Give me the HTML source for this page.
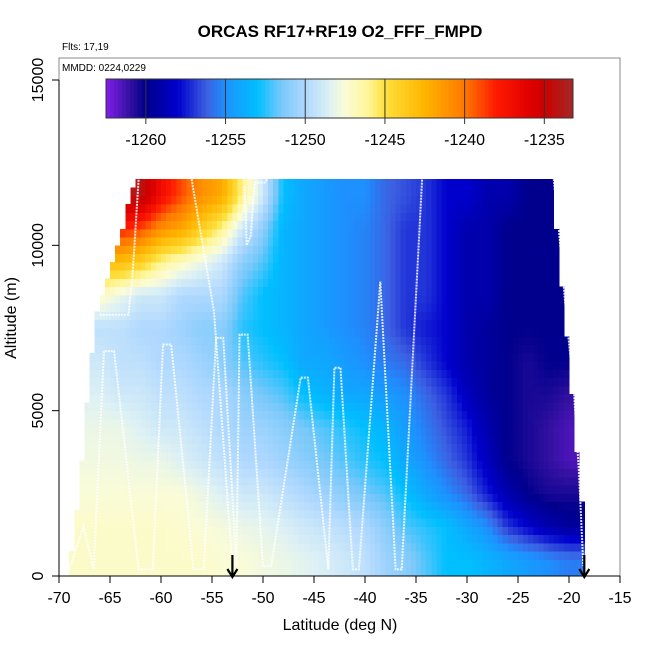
<!DOCTYPE html>
<html><head><meta charset="utf-8">
<style>
html,body{margin:0;padding:0;background:#fff;}
svg{display:block;font-family:"Liberation Sans",Arial,sans-serif;}
</style></head>
<body>
<svg id="chart" width="650" height="650" viewBox="0 0 650 650" xmlns="http://www.w3.org/2000/svg">
  <text x="340" y="37" text-anchor="middle" font-size="17" font-weight="bold">ORCAS RF17+RF19 O2_FFF_FMPD</text>
  <text x="62" y="50" font-size="10">Flts: 17,19</text>
  <rect x="59" y="58" width="561" height="518" fill="none" stroke="#888" stroke-width="1"/>
  <text x="62" y="71" font-size="10">MMDD: 0224,0229</text>
  <g id="heat" shape-rendering="crispEdges"></g>
  <g id="tracks"></g>
  <g id="cbar"></g>
  <g id="axes"></g>
  <text x="340" y="630" text-anchor="middle" font-size="16">Latitude (deg N)</text>
  <text transform="translate(16,318) rotate(-90)" text-anchor="middle" font-size="16">Altitude (m)</text>
</svg>
<script>
// ---- data ----
const latCenters = [-68,-66,-64,-62,-60,-58,-56,-54,-52,-50,-48,-46,-44,-42,-40,-38,-36,-34,-32,-30,-28,-26,-24,-22,-20];
const altCenters = [11500,10500,9500,8500,7500,6500,5500,4500,3500,2500,1500,500];
const N = null;
const row11500 = [N,N,N,-1234,-1237,-1239,-1241,-1242,-1246,-1249,-1253,-1254,-1254.5,-1255,-1255,-1256,-1256.5,-1257,-1258,-1258,-1259,-1259,-1260,-1260,N];
const row10500 = [N,N,-1238,-1239,-1241,-1242,-1244,-1246,-1249,-1251,-1253.5,-1254,-1254.5,-1255,-1255.3,-1256,-1257,-1257,-1258,-1259,-1259,-1260,-1260,-1260,N];
const row9500  = [N,N,-1243,-1244,-1246,-1247,-1248,-1249,-1251,-1252,-1253.5,-1254,-1254.5,-1255,-1255.3,-1256,-1257,-1257,-1258,-1259,-1259,-1260,-1260,-1260,N];
const row8500  = [N,-1247,-1248,-1249,-1249,-1250,-1250,-1250,-1252,-1253,-1253.5,-1254,-1254.5,-1255,-1255.3,-1256,-1257,-1257,-1258,-1259,-1259,-1260,-1260,-1260,N];
const row7500  = [N,-1249.5,-1249.5,-1250,-1250,-1250.5,-1251,-1251,-1252.5,-1253,-1253.5,-1254,-1254.5,-1255,-1255.3,-1256,-1257,-1257.5,-1258,-1259,-1259.5,-1260,-1260,-1260,N];
const row6500  = [-1249,-1249,-1249.5,-1249.5,-1250,-1250,-1250.5,-1251,-1252,-1252.5,-1253,-1254,-1254,-1254.5,-1255,-1255.5,-1256,-1257,-1258,-1259,-1259.5,-1260,-1260.5,-1260,-1260];
const row5500  = [-1248.5,-1248.5,-1249,-1249,-1249.5,-1249.5,-1250,-1250,-1251,-1251.5,-1252,-1253,-1253.5,-1254,-1254,-1254.5,-1255,-1256,-1257,-1258.5,-1259.5,-1260,-1260.5,-1260.5,-1261];
const row4500  = [-1248,-1248,-1248,-1248.5,-1249,-1249,-1249.5,-1250,-1250.5,-1250.5,-1251,-1251.5,-1252,-1252.5,-1253,-1253.5,-1254.5,-1255.5,-1256.5,-1257.5,-1259,-1260,-1260.5,-1261,-1261.5];
const row3500  = [-1247.8,-1247.8,-1247.8,-1248,-1248,-1248.5,-1249,-1249.5,-1250,-1250,-1250.5,-1251,-1251.5,-1252,-1252.5,-1253,-1254,-1255,-1256,-1257,-1258.5,-1260,-1260.5,-1261,-1261.5];
const row2500  = [-1247.5,-1247.5,-1247.5,-1247.5,-1247.5,-1247.5,-1248,-1248.5,-1249,-1249,-1249.5,-1250,-1250.5,-1251,-1251.5,-1252,-1253,-1254,-1255,-1256,-1257.5,-1259,-1260,-1260.5,-1260.5];
const row1500  = [-1247.2,-1247.2,-1247.2,-1247.2,-1247.2,-1247.3,-1247.5,-1247.7,-1248,-1248.2,-1248.5,-1249,-1249.3,-1249.7,-1250,-1251,-1252,-1252.5,-1253,-1254,-1255,-1257,-1258,-1259,-1259.5];
const row500   = [-1247.2,-1247.2,-1247.2,-1247.2,-1247.2,-1247.2,-1247.2,-1247.4,-1247.5,-1247.8,-1248,-1248.3,-1248.6,-1249,-1249.5,-1250.5,-1251,-1252,-1253,-1253,-1253.5,-1254,-1254.5,-1255,-1255.5];
const gridRows = [row11500,row10500,row9500,row8500,row7500,row6500,row5500,row4500,row3500,row2500,row1500,row500];
const edgeAlts  = [0,1000,2000,3000,4000,5000,6000,7000,8000,9000,10000,11000,12000];
const leftEdge  = [-69,-68.6,-68.2,-67.9,-67.6,-67.3,-67,-66.6,-66.2,-65.3,-64.3,-63.4,-62.5];
const rightEdge = [-18.4,-18.5,-18.7,-19,-19.3,-19.6,-19.9,-20.2,-20.5,-20.8,-21.1,-21.4,-21.6];
const xTicks = [-70,-65,-60,-55,-50,-45,-40,-35,-30,-25,-20,-15];
const yTicks = [0,5000,10000,15000];
const cbarTicks = [-1260,-1255,-1250,-1245,-1240,-1235];
const cbarMin = -1262.5, cbarMax = -1233.2;
const trackLat = [-69,-67.6,-66.6,-65.6,-64.6,-62.2,-60.8,-59.8,-59,-56.8,-55.8,-54.6,-53.9,-52.6,-52.3,-51.5,-50,-49.2,-46.3,-45.6,-43.6,-43,-42.4,-41.2,-40.6,-38.5,-37,-36.4,-34.4];
const trackAlt = [200,1500,200,6800,6800,200,200,7000,7000,200,200,7200,7200,300,7300,7300,300,300,6000,6000,200,6300,6300,200,200,8900,200,200,12000];
const track2Lat = [-66,-63.2,-62.8,-62.2];
const track2Alt = [7900,7900,9000,12000];
const track3Lat = [-57,-54.8,-53.4,-53];
const track3Alt = [12000,8000,2000,300];
const track4Lat = [-51.8,-51.6,-51.2,-50.8,-49.8,-49.6];
const track4Alt = [11800,10000,10300,11900,11900,12000];
const track5Lat = [-21.5,-21,-20.3,-19.5,-19,-18.6];
const track5Alt = [12000,10500,8000,5500,3000,300];
const arrowLats = [-53,-18.5];

// ---- scales ----
const X0 = 59, X1 = 620, Y0 = 576, Y15 = 80;
const xs = v => X0 + (v + 70) / 55 * (X1 - X0);
const ys = v => Y0 - v / 15000 * (Y0 - Y15);
const SVGNS = "http://www.w3.org/2000/svg";
function mk(tag, attrs, parent){ const e=document.createElementNS(SVGNS,tag); for(const k in attrs) e.setAttribute(k,attrs[k]); parent.appendChild(e); return e; }

const stops = [
 [-1262.5,[128,30,235]],[-1261,[50,16,160]],[-1260,[0,0,140]],[-1258,[0,0,205]],[-1256.2,[60,95,225]],
 [-1255,[30,144,255]],[-1253,[0,191,255]],[-1251.5,[120,200,250]],[-1250,[175,216,255]],
 [-1248.5,[220,240,245]],[-1247.5,[250,252,215]],[-1246,[255,245,150]],[-1245,[255,224,60]],[-1242.5,[255,180,0]],
 [-1240,[255,120,0]],[-1238,[255,25,0]],[-1236,[225,0,0]],[-1235,[205,0,0]],[-1233.2,[165,40,40]]];
function col(v){
  if(v<=stops[0][0]) v=stops[0][0];
  if(v>=stops[stops.length-1][0]) v=stops[stops.length-1][0];
  for(let i=0;i<stops.length-1;i++){
    const a=stops[i],b=stops[i+1];
    if(v>=a[0]&&v<=b[0]){const t=(v-a[0])/(b[0]-a[0]);
      const c=a[1].map((x,j)=>Math.round(x+(b[1][j]-x)*t)); return `rgb(${c[0]},${c[1]},${c[2]})`;}
  }
  return "#fff";
}
function gv(ri,ci){
  const row=gridRows[ri];
  let lo=0,hi=row.length-1;
  while(row[lo]===null) lo++;
  while(row[hi]===null) hi--;
  ci=Math.max(lo,Math.min(hi,ci));
  return row[ci];
}
function valueAt(lat,alt){
  let fc=(lat-latCenters[0])/2; fc=Math.max(0,Math.min(latCenters.length-1,fc));
  let fr=(altCenters[0]-alt)/1000; fr=Math.max(0,Math.min(altCenters.length-1,fr));
  const c0=Math.floor(fc), c1=Math.min(c0+1,latCenters.length-1), tc=fc-c0;
  const r0=Math.floor(fr), r1=Math.min(r0+1,altCenters.length-1), tr=fr-r0;
  const a=gv(r0,c0)*(1-tc)+gv(r0,c1)*tc;
  const b=gv(r1,c0)*(1-tc)+gv(r1,c1)*tc;
  return a*(1-tr)+b*tr;
}
function edgeAt(arr,alt){
  const i=Math.min(edgeAlts.length-2,Math.floor(alt/1000));
  const t=(alt-edgeAlts[i])/1000;
  return arr[i]*(1-t)+arr[i+1]*t;
}

// ---- heatmap ----
const heat = document.getElementById('heat');
const dLat=0.5, dAlt=250;
for(let alt=0; alt<12000; alt+=dAlt){
  const am=alt+dAlt/2;
  const le=edgeAt(leftEdge,am), re=edgeAt(rightEdge,am);
  for(let lat=-70; lat<-18; lat+=dLat){
    const lm=lat+dLat/2;
    if(lm<le||lm>re) continue;
    const v=valueAt(lm,am);
    const x=xs(lat), w=xs(lat+dLat)-x, y=ys(alt+dAlt), h=ys(alt)-y;
    const r=mk('rect',{x:x.toFixed(2),y:y.toFixed(2),width:(w+0.5).toFixed(2),height:(h+0.5).toFixed(2),fill:col(v)},heat);
    
    
  }
}

// ---- tracks ----
const tracks = document.getElementById('tracks');
[[trackLat,trackAlt],[track2Lat,track2Alt],[track3Lat,track3Alt],[track4Lat,track4Alt],[track5Lat,track5Alt]].forEach(([la,al])=>{
  const pts = la.map((v,i)=>xs(v).toFixed(1)+','+ys(al[i]).toFixed(1)).join(' ');
  const p = mk('polyline',{points:pts,fill:'none',stroke:'#fff','stroke-width':2,'stroke-dasharray':'2 1','stroke-opacity':0.85},tracks);
  
  
});
arrowLats.forEach(l=>{
  const x=xs(l);
  const g=mk('path',{d:`M${x},555 L${x},576 M${x-5},569 L${x},577 L${x+5},569`,stroke:'#000','stroke-width':2.2,fill:'none'},tracks);
  
  
});

// ---- colorbar ----
const cb = document.getElementById('cbar');
const CB0=106, CB1=573, CBT=79, CBB=118;
const cx = v => CB0 + (v-cbarMin)/(cbarMax-cbarMin)*(CB1-CB0);
for(let v=cbarMin; v<cbarMax-0.01; v+=0.25){
  const w=Math.min(cx(v+0.25),CB1)-cx(v);
  mk('rect',{x:cx(v).toFixed(2),y:CBT,width:(w+0.4).toFixed(2),height:CBB-CBT,fill:col(v+0.125)},cb);
}
mk('rect',{x:CB0,y:CBT,width:CB1-CB0,height:CBB-CBT,fill:'none',stroke:'#333','stroke-width':1},cb);
cbarTicks.forEach(t=>{
  const x=cx(t);
  mk('line',{x1:x,x2:x,y1:CBT,y2:CBB+6,stroke:'#333','stroke-width':1},cb);
  const tx=mk('text',{x:x,y:CBB+27,'text-anchor':'middle','font-size':16},cb);
  tx.textContent=t;
  
  
});

// ---- axes ----
const ax = document.getElementById('axes');
mk('line',{x1:X0,x2:X1,y1:Y0,y2:Y0,stroke:'#000','stroke-width':1},ax);
mk('line',{x1:X0,x2:X0,y1:Y0,y2:Y15,stroke:'#000','stroke-width':1},ax);
xTicks.forEach(t=>{
  const x=xs(t);
  mk('line',{x1:x,x2:x,y1:Y0,y2:Y0+7,stroke:'#000'},ax);
  const tx=mk('text',{x:x,y:Y0+27,'text-anchor':'middle','font-size':16},ax);
  tx.textContent=t;
  
  
});
yTicks.forEach(t=>{
  const y=ys(t);
  mk('line',{x1:X0-7,x2:X0,y1:y,y2:y,stroke:'#000'},ax);
  const tx=mk('text',{transform:`translate(43,${y}) rotate(-90)`,'text-anchor':'middle','font-size':16},ax);
  tx.textContent=t;
  
  
});
</script>
</body></html>
